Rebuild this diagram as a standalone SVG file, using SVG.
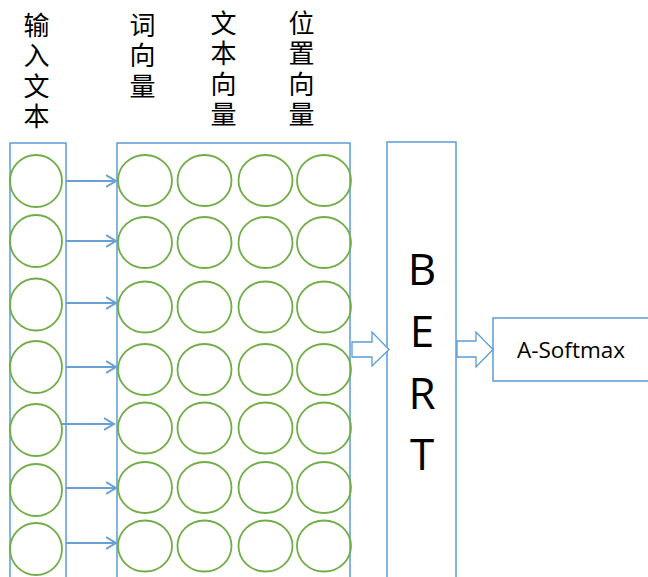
<svg xmlns="http://www.w3.org/2000/svg" width="648" height="577" viewBox="0 0 648 577">
<defs>
<style>
.box{fill:none;stroke:#5B9BD5;stroke-width:1.5}
.c{fill:none;stroke:#70AD47;stroke-width:1.8}
.a{fill:none;stroke:#6A9FD4;stroke-width:2}
.blk{fill:#fff;stroke:#5B9BD5;stroke-width:1.3}
.cjk{font-family:"Noto Sans CJK SC","Noto Sans",sans-serif;font-size:26px;fill:#000;writing-mode:vertical-rl;letter-spacing:4.5px}
.big{font-family:"Open Sans","Liberation Sans",sans-serif;font-size:44px;fill:#000;text-anchor:middle}
.lbl{font-family:"Open Sans","Liberation Sans",sans-serif;font-size:21px;fill:#000}
</style>
<marker id="ah" markerWidth="12" markerHeight="14" refX="10" refY="7" orient="auto" markerUnits="userSpaceOnUse">
<path d="M0,1 L10,7 L0,13" fill="none" stroke="#6A9FD4" stroke-width="2"/>
</marker>
</defs>
<rect width="648" height="577" fill="#fff"/>
<g id="labels">
<text class="cjk" x="36.5" y="12">输入文本</text>
<text class="cjk" x="142.5" y="12">词向量</text>
<text class="cjk" x="223.5" y="10">文本向量</text>
<text class="cjk" x="301.5" y="10">位置向量</text>
</g>
<g id="input">
<rect class="box" x="10" y="143" width="56" height="440"/>
<ellipse class="c" cx="36" cy="181" rx="26" ry="26"/>
<ellipse class="c" cx="36" cy="241" rx="26" ry="26"/>
<ellipse class="c" cx="36" cy="304.5" rx="26" ry="26"/>
<ellipse class="c" cx="36" cy="367" rx="26" ry="26"/>
<ellipse class="c" cx="36" cy="430" rx="26" ry="26"/>
<ellipse class="c" cx="36" cy="490" rx="26" ry="26"/>
<ellipse class="c" cx="36" cy="549" rx="26" ry="26"/>
</g>
<g id="embeddings">
<rect class="box" x="117" y="143" width="233" height="440"/>
<g id="row1"><ellipse class="c" cx="145" cy="180.5" rx="27" ry="25.5"/><ellipse class="c" cx="204.5" cy="180.5" rx="27" ry="25.5"/><ellipse class="c" cx="265.5" cy="180.5" rx="27" ry="25.5"/><ellipse class="c" cx="324" cy="180.5" rx="27" ry="25.5"/></g>
<g id="row2"><ellipse class="c" cx="145" cy="242.5" rx="27" ry="25.5"/><ellipse class="c" cx="204.5" cy="242.5" rx="27" ry="25.5"/><ellipse class="c" cx="265.5" cy="242.5" rx="27" ry="25.5"/><ellipse class="c" cx="324" cy="242.5" rx="27" ry="25.5"/></g>
<g id="row3"><ellipse class="c" cx="145" cy="307" rx="27" ry="25.5"/><ellipse class="c" cx="204.5" cy="307" rx="27" ry="25.5"/><ellipse class="c" cx="265.5" cy="307" rx="27" ry="25.5"/><ellipse class="c" cx="324" cy="307" rx="27" ry="25.5"/></g>
<g id="row4"><ellipse class="c" cx="145" cy="369.5" rx="27" ry="25.5"/><ellipse class="c" cx="204.5" cy="369.5" rx="27" ry="25.5"/><ellipse class="c" cx="265.5" cy="369.5" rx="27" ry="25.5"/><ellipse class="c" cx="324" cy="369.5" rx="27" ry="25.5"/></g>
<g id="row5"><ellipse class="c" cx="145" cy="428" rx="27" ry="25.5"/><ellipse class="c" cx="204.5" cy="428" rx="27" ry="25.5"/><ellipse class="c" cx="265.5" cy="428" rx="27" ry="25.5"/><ellipse class="c" cx="324" cy="428" rx="27" ry="25.5"/></g>
<g id="row6"><ellipse class="c" cx="145" cy="487.5" rx="27" ry="25.5"/><ellipse class="c" cx="204.5" cy="487.5" rx="27" ry="25.5"/><ellipse class="c" cx="265.5" cy="487.5" rx="27" ry="25.5"/><ellipse class="c" cx="324" cy="487.5" rx="27" ry="25.5"/></g>
<g id="row7"><ellipse class="c" cx="145" cy="546" rx="27" ry="25.5"/><ellipse class="c" cx="204.5" cy="546" rx="27" ry="25.5"/><ellipse class="c" cx="265.5" cy="546" rx="27" ry="25.5"/><ellipse class="c" cx="324" cy="546" rx="27" ry="25.5"/></g>
</g>
<g id="bert">
<rect class="box" x="387" y="142" width="69" height="441"/>
<text class="big" x="422" y="285">B</text>
<text class="big" x="422" y="347">E</text>
<text class="big" x="422" y="409">R</text>
<text class="big" x="422" y="470">T</text>
</g>
<g id="asoftmax">
<rect class="box" x="493" y="318" width="160" height="63"/>
<text class="lbl" x="517" y="357.5" textLength="108" lengthAdjust="spacingAndGlyphs">A-Softmax</text>
</g>
<g id="connectors">
<line class="a" x1="66" y1="181" x2="116" y2="181" marker-end="url(#ah)"/>
<line class="a" x1="66" y1="241" x2="116" y2="241" marker-end="url(#ah)"/>
<line class="a" x1="66" y1="303" x2="116" y2="303" marker-end="url(#ah)"/>
<line class="a" x1="66" y1="367" x2="116" y2="367" marker-end="url(#ah)"/>
<line class="a" x1="62" y1="424" x2="114" y2="424" marker-end="url(#ah)"/>
<line class="a" x1="66" y1="488" x2="116" y2="488" marker-end="url(#ah)"/>
<line class="a" x1="66" y1="543" x2="116" y2="543" marker-end="url(#ah)"/>
<path class="blk" d="M352,342 L372,342 L372,332 L389,349.5 L372,366 L372,357 L352,357 Z"/>
<path class="blk" d="M457,341 L476,341 L476,332 L493,349.5 L476,367 L476,357 L457,357 Z"/>
</g>
</svg>
